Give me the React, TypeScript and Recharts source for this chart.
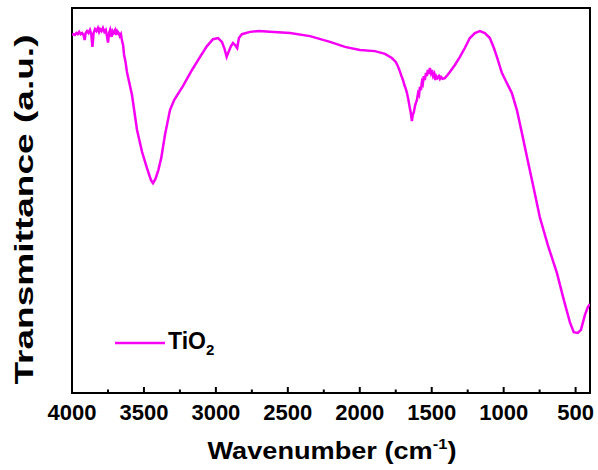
import React from "react";
import { LineChart, Line, XAxis, YAxis, ReferenceArea, Legend, Label } from "recharts";

// FTIR spectrum of TiO2 (wavenumber in cm^-1, transmittance in a.u.)
const wavenumbers = [
  4000, 3990, 3980, 3970, 3960, 3950, 3940, 3930, 3920, 3912, 3905, 3895, 3885, 3875, 3866, 3858,
  3850, 3840, 3830, 3820, 3812, 3805, 3795, 3785, 3775, 3765, 3757, 3750, 3742, 3735, 3725, 3718,
  3710, 3700, 3692, 3685, 3675, 3668, 3660, 3652, 3645, 3638, 3628, 3618, 3583, 3548, 3513, 3479,
  3451, 3437, 3420, 3400, 3380, 3354, 3319, 3290, 3260, 3229, 3166, 3110, 3062, 3020, 2985, 2958,
  2940, 2925, 2912, 2895, 2881, 2867, 2852, 2840, 2819, 2763, 2700, 2624, 2485, 2346, 2207, 2103,
  1999, 1895, 1825, 1777, 1750, 1735, 1720, 1710, 1700, 1690, 1680, 1672, 1662, 1652, 1645, 1638,
  1632, 1624, 1615, 1603, 1595, 1588, 1582, 1575, 1568, 1562, 1555, 1548, 1540, 1534, 1527, 1520,
  1513, 1505, 1498, 1490, 1482, 1475, 1468, 1460, 1450, 1443, 1435, 1425, 1409, 1390, 1374, 1339,
  1304, 1270, 1235, 1200, 1165, 1131, 1096, 1068, 1047, 1012, 978, 943, 908, 873, 838, 796, 749,
  693, 630, 582, 540, 513, 485, 463, 435, 415, 400,
];

const transmittance = [
  93.0, 93.2, 93.0, 93.5, 93.2, 93.8, 93.2, 93.5, 93.0, 91.7, 93.5, 94.0, 93.5, 94.3, 93.2, 89.9,
  93.5, 94.5, 94.0, 94.8, 93.8, 94.5, 94.0, 94.8, 93.8, 94.3, 92.7, 91.0, 93.5, 94.3, 92.5, 94.0,
  93.5, 94.3, 93.0, 94.0, 93.5, 92.7, 93.2, 91.4, 90.4, 87.8, 86.0, 83.4, 77.4, 68.3, 62.6, 58.4,
  55.3, 54.5, 55.6, 57.9, 61.0, 67.0, 73.5, 76.1, 77.9, 79.7, 83.9, 87.3, 90.1, 91.9, 92.2, 91.2,
  89.4, 87.3, 88.6, 90.1, 90.9, 90.4, 89.6, 92.2, 93.2, 93.8, 94.0, 93.8, 93.5, 92.7, 91.2, 89.9,
  89.1, 88.8, 88.1, 87.0, 86.0, 84.9, 83.4, 82.3, 81.3, 80.0, 79.0, 77.9, 76.1, 74.0, 72.7, 70.6,
  72.2, 73.0, 74.8, 76.1, 77.9, 77.4, 79.5, 78.7, 80.8, 80.3, 82.3, 81.3, 83.1, 82.3, 83.9, 82.9,
  84.4, 83.1, 83.9, 82.3, 82.9, 81.3, 82.3, 81.8, 82.3, 81.6, 82.1, 81.6, 81.8, 82.6, 83.4, 85.2,
  87.3, 89.6, 92.2, 93.5, 94.0, 93.5, 92.2, 89.6, 87.3, 83.1, 80.5, 77.9, 73.5, 67.5, 61.3, 54.0, 45.7,
  38.4, 31.2, 24.2, 18.4, 15.8, 15.6, 16.4, 20.3, 22.3, 23.1,
];

const majorTicks = [4000, 3500, 3000, 2500, 2000, 1500, 1000, 500];
const minorTicks = [3750, 3250, 2750, 2250, 1750, 1250, 750];
const allTicks = [...majorTicks, ...minorTicks].sort((a, b) => b - a);

const seriesName = "TiO";
const seriesSub = "2";
const xTitle = "Wavenumber (cm";
const xTitleSup = "-1";
const yTitle = "Transmittance (a.u.)";

const data = wavenumbers.map((w, i) => ({ w, t: transmittance[i] }));

const FONT = "'Liberation Sans', Arial, Helvetica, sans-serif";
const LINE_COLOR = "#f500f5";

const AxisTick = (props: any) => {
  const { x, y, payload } = props;
  const isMajor = majorTicks.includes(payload.value);
  return (
    <g>
      <line x1={x} x2={x} y1={y} y2={y - (isMajor ? 6 : 3.5)} stroke="#000" strokeWidth={2} />
      {isMajor && (
        <text x={x} y={y + 27} textAnchor="middle" fontFamily={FONT} fontWeight="bold" fontSize={22} fill="#000">
          {payload.value}
        </text>
      )}
    </g>
  );
};

const XTitle = (props: any) => {
  const vb = props.viewBox || {};
  const cx = vb.x + vb.width / 2 + 1;
  return (
    <text
      x={cx}
      y={vb.y + 66}
      textAnchor="middle"
      fontFamily={FONT}
      fontWeight="bold"
      fontSize={23}
      fill="#000"
      textLength={249}
      lengthAdjust="spacingAndGlyphs"
    >
      {xTitle}
      <tspan fontSize={14} dy={-10}>{xTitleSup}</tspan>
      <tspan dy={10}>)</tspan>
    </text>
  );
};

const YTitle = (props: any) => {
  const vb = props.viewBox || {};
  const bx = vb.x + vb.width - 39;
  const cy = vb.y + vb.height / 2 + 9;
  return (
    <text
      x={bx}
      y={cy}
      transform={`rotate(-90, ${bx}, ${cy})`}
      textAnchor="middle"
      fontFamily={FONT}
      fontWeight="bold"
      fontSize={25}
      fill="#000"
      textLength={350}
      lengthAdjust="spacingAndGlyphs"
    >
      {yTitle}
    </text>
  );
};

const LegendContent = () => (
  <svg width={130} height={40} style={{ overflow: "visible", display: "block" }}>
    <line x1={5} x2={55} y1={15} y2={15} stroke={LINE_COLOR} strokeWidth={2.5} />
    <text x={58} y={21} fontFamily={FONT} fontWeight="bold" fontSize={23} fill="#000">
      {seriesName}
      <tspan fontSize={15} dy={6}>{seriesSub}</tspan>
    </text>
  </svg>
);

export default function App() {
  return (
    <div style={{ position: "absolute", left: 0, top: 0, background: "#fff" }}>
      <LineChart width={598} height={470} data={data} margin={{ top: 8, right: 8, bottom: 0, left: 0 }}>
        <XAxis
          dataKey="w"
          type="number"
          domain={[400, 4000]}
          reversed
          ticks={allTicks}
          interval={0}
          tick={<AxisTick />}
          tickLine={false}
          tickSize={0}
          tickMargin={0}
          axisLine={false}
          height={77}
          allowDataOverflow
        >
          <Label content={<XTitle />} />
        </XAxis>
        <YAxis domain={[0, 100]} tick={false} tickLine={false} axisLine={false} width={72} allowDataOverflow>
          <Label content={<YTitle />} />
        </YAxis>
        <ReferenceArea x1={4000} x2={400} y1={0} y2={100} fill="none" stroke="#000" strokeWidth={2} ifOverflow="visible" />
        <Legend
          layout="horizontal"
          verticalAlign="middle"
          align="center"
          content={<LegendContent />}
          wrapperStyle={{ position: "absolute", left: 110, top: 328, width: 130, height: 40 }}
        />
        <Line
          type="linear"
          dataKey="t"
          stroke={LINE_COLOR}
          strokeWidth={2.5}
          dot={false}
          isAnimationActive={false}
        />
      </LineChart>
    </div>
  );
}
